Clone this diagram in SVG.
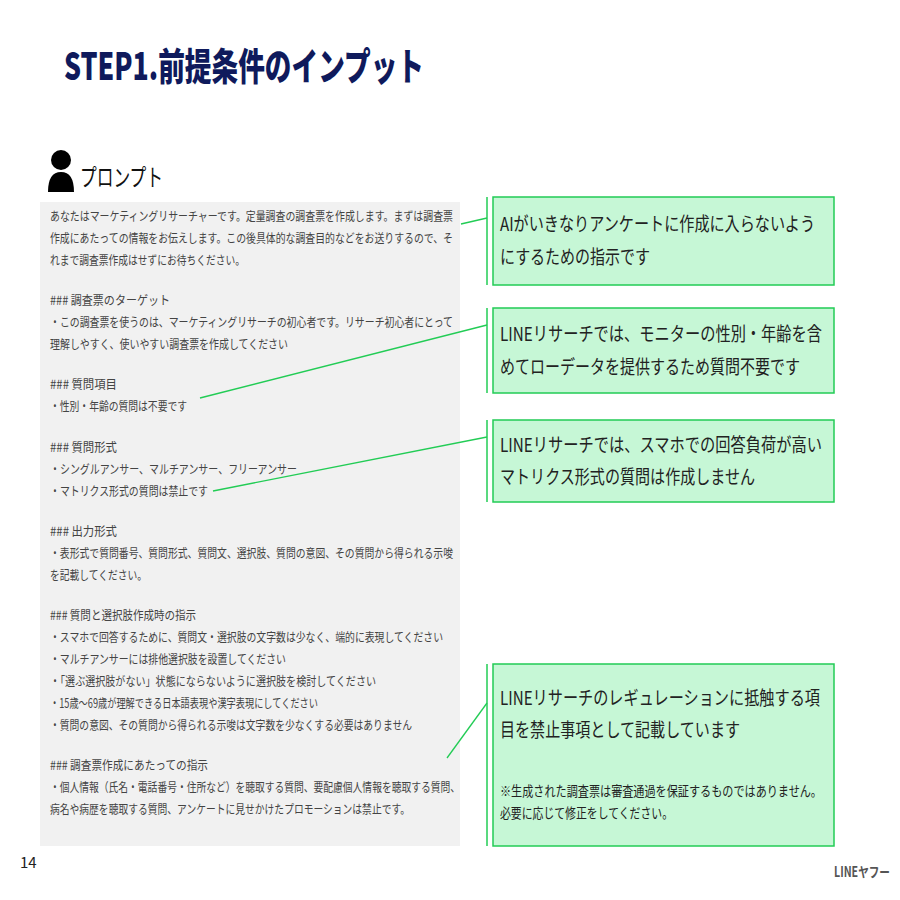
<svg xmlns="http://www.w3.org/2000/svg" width="900" height="900" viewBox="0 0 900 900">
<style>
text{font-family:"Noto Sans CJK JP","Noto Sans",sans-serif}
.p{font-size:12.5px;fill:#444}
.b{font-size:19px;fill:#222}
.s{font-size:14px;fill:#222}
.box{fill:#c6f7d6;stroke:#22cc55;stroke-width:1.5}
.br{stroke:#22cc55;stroke-width:1.5}
.c{stroke:#22cc55;stroke-width:1.3;fill:none}
</style>
<rect width="900" height="900" fill="#fff"/>
<text x="64" y="80" font-size="38" font-weight="900" fill="#0f1a5c" textLength="360" lengthAdjust="spacingAndGlyphs">STEP1.前提条件のインプット</text>
<g id="icon"><circle cx="61" cy="160" r="10" fill="#000"/><path d="M48 192 Q48 172 61 172 Q74 172 74 192 Z" fill="#000"/></g>
<text x="80" y="186" font-size="24" fill="#111" textLength="83" lengthAdjust="spacingAndGlyphs">プロンプト</text>
<g id="prompt">
<rect x="40" y="202" width="420" height="644" fill="#f1f1f1"/>
<text class="p" x="50" y="221" textLength="403" lengthAdjust="spacingAndGlyphs">あなたはマーケティングリサーチャーです。定量調査の調査票を作成します。まずは調査票</text>
<text class="p" x="50" y="243" textLength="403" lengthAdjust="spacingAndGlyphs">作成にあたっての情報をお伝えします。この後具体的な調査目的などをお送りするので、そ</text>
<text class="p" x="50" y="265" textLength="195" lengthAdjust="spacingAndGlyphs">れまで調査票作成はせずにお待ちください。</text>
<text class="p" x="50" y="305" textLength="120" lengthAdjust="spacingAndGlyphs">### 調査票のターゲット</text>
<text class="p" x="50" y="327" textLength="403" lengthAdjust="spacingAndGlyphs">・この調査票を使うのは、マーケティングリサーチの初心者です。リサーチ初心者にとって</text>
<text class="p" x="50" y="349" textLength="238" lengthAdjust="spacingAndGlyphs">理解しやすく、使いやすい調査票を作成してください</text>
<text class="p" x="50" y="389" textLength="67" lengthAdjust="spacingAndGlyphs">### 質問項目</text>
<text class="p" x="50" y="411" textLength="137" lengthAdjust="spacingAndGlyphs">・性別・年齢の質問は不要です</text>
<text class="p" x="50" y="452" textLength="67" lengthAdjust="spacingAndGlyphs">### 質問形式</text>
<text class="p" x="50" y="474" textLength="247" lengthAdjust="spacingAndGlyphs">・シングルアンサー、マルチアンサー、フリーアンサー</text>
<text class="p" x="50" y="496" textLength="158" lengthAdjust="spacingAndGlyphs">・マトリクス形式の質問は禁止です</text>
<text class="p" x="50" y="536" textLength="67" lengthAdjust="spacingAndGlyphs">### 出力形式</text>
<text class="p" x="50" y="558" textLength="403" lengthAdjust="spacingAndGlyphs">・表形式で質問番号、質問形式、質問文、選択肢、質問の意図、その質問から得られる示唆</text>
<text class="p" x="50" y="580" textLength="97" lengthAdjust="spacingAndGlyphs">を記載してください。</text>
<text class="p" x="50" y="620" textLength="146" lengthAdjust="spacingAndGlyphs">### 質問と選択肢作成時の指示</text>
<text class="p" x="50" y="642" textLength="393" lengthAdjust="spacingAndGlyphs">・スマホで回答するために、質問文・選択肢の文字数は少なく、端的に表現してください</text>
<text class="p" x="50" y="664" textLength="236" lengthAdjust="spacingAndGlyphs">・マルチアンサーには排他選択肢を設置してください</text>
<text class="p" x="50" y="686" textLength="326" lengthAdjust="spacingAndGlyphs">・「選ぶ選択肢がない」状態にならないように選択肢を検討してください</text>
<text class="p" x="50" y="708" textLength="268" lengthAdjust="spacingAndGlyphs">・15歳～69歳が理解できる日本語表現や漢字表現にしてください</text>
<text class="p" x="50" y="730" textLength="362" lengthAdjust="spacingAndGlyphs">・質問の意図、その質問から得られる示唆は文字数を少なくする必要はありません</text>
<text class="p" x="50" y="770" textLength="158" lengthAdjust="spacingAndGlyphs">### 調査票作成にあたっての指示</text>
<text class="p" x="50" y="792" textLength="410" lengthAdjust="spacingAndGlyphs">・個人情報（氏名・電話番号・住所など）を聴取する質問、要配慮個人情報を聴取する質問、</text>
<text class="p" x="50" y="814" textLength="360" lengthAdjust="spacingAndGlyphs">病名や病歴を聴取する質問、アンケートに見せかけたプロモーションは禁止です。</text>
</g>
<g id="connectors">
<line class="c" x1="461" y1="224" x2="487" y2="218"/>
<line class="c" x1="200" y1="398" x2="487" y2="325"/>
<line class="c" x1="213" y1="491" x2="487" y2="437"/>
<line class="c" x1="447" y1="758" x2="487" y2="703"/>
</g>
<g id="n1"><line class="br" x1="487" y1="197" x2="487" y2="285"/><rect class="box" x="493" y="197" width="341" height="88"/>
<text class="b" x="500" y="231" textLength="315" lengthAdjust="spacingAndGlyphs">AIがいきなりアンケートに作成に入らないよう</text>
<text class="b" x="500" y="264" textLength="150" lengthAdjust="spacingAndGlyphs">にするための指示です</text></g>
<g id="n2"><line class="br" x1="487" y1="308" x2="487" y2="393"/><rect class="box" x="493" y="308" width="341" height="85"/>
<text class="b" x="500" y="341" textLength="322" lengthAdjust="spacingAndGlyphs">LINEリサーチでは、モニターの性別・年齢を含</text>
<text class="b" x="500" y="374" textLength="300" lengthAdjust="spacingAndGlyphs">めてローデータを提供するため質問不要です</text></g>
<g id="n3"><line class="br" x1="487" y1="420" x2="487" y2="502"/><rect class="box" x="493" y="420" width="341" height="82"/>
<text class="b" x="500" y="452" textLength="322" lengthAdjust="spacingAndGlyphs">LINEリサーチでは、スマホでの回答負荷が高い</text>
<text class="b" x="500" y="484" textLength="255" lengthAdjust="spacingAndGlyphs">マトリクス形式の質問は作成しません</text></g>
<g id="n4"><line class="br" x1="487" y1="664" x2="487" y2="846"/><rect class="box" x="493" y="664" width="341" height="182"/>
<text class="b" x="500" y="705" textLength="320" lengthAdjust="spacingAndGlyphs">LINEリサーチのレギュレーションに抵触する項</text>
<text class="b" x="500" y="737" textLength="240" lengthAdjust="spacingAndGlyphs">目を禁止事項として記載しています</text>
<text class="s" x="500" y="796" textLength="322" lengthAdjust="spacingAndGlyphs">※生成された調査票は審査通過を保証するものではありません。</text>
<text class="s" x="500" y="818" textLength="173" lengthAdjust="spacingAndGlyphs">必要に応じて修正をしてください。</text></g>
<text x="20" y="868" font-size="15" fill="#222">14</text>
<text x="834" y="877" font-size="14" font-weight="bold" fill="#555" textLength="56" lengthAdjust="spacingAndGlyphs">LINEヤフー</text>
</svg>
